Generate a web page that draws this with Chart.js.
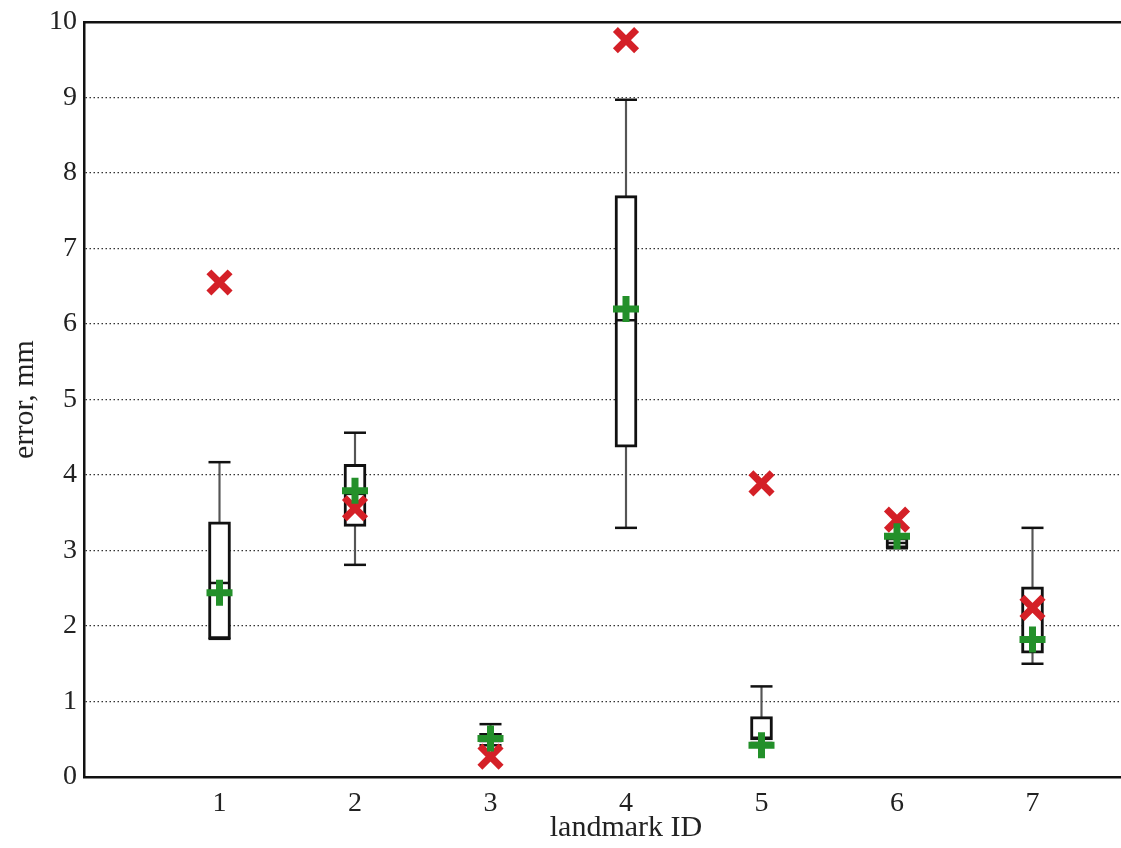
<!DOCTYPE html>
<html>
<head>
<meta charset="utf-8">
<title>Landmark error</title>
<script src="https://cdn.jsdelivr.net/npm/chart.js@4.4.1/dist/chart.umd.min.js"></script>
<style>
  html, body { margin: 0; padding: 0; background: #fff; overflow: hidden; }
  #wrap { position: relative; width: 1190px; height: 848px; }
</style>
</head>
<body>
<div id="wrap"><canvas id="errorChart"></canvas></div>
<script>
/* ===== Landmark error box plot ===== */

const landmarks = [1, 2, 3, 4, 5, 6, 7];
const whiskerLow = [1.83, 2.81, 0.42, 3.30, 0.45, 3.03, 1.50];
const q1 = [1.83, 3.32, 0.46, 4.37, 0.49, 3.03, 1.64];
const median = [2.57, 3.75, 0.52, 6.05, 0.52, 3.10, 1.85];
const q3 = [3.38, 4.14, 0.58, 7.70, 0.80, 3.17, 2.52];
const whiskerHigh = [4.17, 4.56, 0.70, 8.97, 1.20, 3.17, 3.30];
const maxError = [6.55, 3.56, 0.27, 9.76, 3.89, 3.41, 2.24];
const meanError = [2.44, 3.79, 0.51, 6.20, 0.42, 3.19, 1.82];
const yTicks = [0, 1, 2, 3, 4, 5, 6, 7, 8, 9, 10];

const SERIF = "'Liberation Serif', 'DejaVu Serif', serif";
const INK = '#222';

const pairs = (a, b) => landmarks.map((x, i) => ({ x, y: [a[i], b[i]] }));
const points = arr => landmarks.map((x, i) => ({ x, y: arr[i] }));

document.addEventListener('DOMContentLoaded', () => {
  const ctx = document.getElementById('errorChart').getContext('2d');

  new Chart(ctx, {
    type: 'bar',
    data: {
      datasets: [
        { // lower whisker
          data: pairs(whiskerLow, q1), xAxisID: 'x', order: 6,
          backgroundColor: '#555', borderWidth: 0, barThickness: 1.5, grouped: false
        },
        { // upper whisker
          data: pairs(q3, whiskerHigh), xAxisID: 'x', order: 6,
          backgroundColor: '#555', borderWidth: 0, barThickness: 1.5, grouped: false
        },
        { // box
          data: pairs(q1, q3), xAxisID: 'x', order: 5,
          backgroundColor: '#fff', borderColor: '#111', borderWidth: 3,
          borderSkipped: false, barThickness: 22, grouped: false
        },
        { // median
          type: 'scatter', data: points(median), xAxisID: 'x', order: 4,
          pointStyle: 'line', pointRadius: 10, borderColor: '#111', borderWidth: 2.5
        },
        { // whisker caps
          type: 'scatter', data: points(whiskerLow).concat(points(whiskerHigh)), xAxisID: 'x', order: 4,
          pointStyle: 'line', pointRadius: 11, borderColor: '#111', borderWidth: 2.5
        },
        { // red crosses
          type: 'scatter', data: points(maxError), xAxisID: 'x', order: 2,
          pointStyle: 'crossRot', pointRadius: 15, borderColor: '#d42027', borderWidth: 7
        },
        { // green pluses
          type: 'scatter', data: points(meanError), xAxisID: 'x', order: 1,
          pointStyle: 'cross', pointRadius: 13, borderColor: '#23902a', borderWidth: 7
        }
      ]
    },
    options: {
      responsive: true,
      maintainAspectRatio: false,
      animation: false,
      events: [],
      layout: { padding: { left: 0, right: 12, top: 0, bottom: 0 } },
      plugins: { legend: { display: false }, tooltip: { enabled: false } },
      scales: {
        x: {
          type: 'linear', position: 'bottom', min: 0, max: 8,
          offset: false,
          grid: { display: false, offset: false },
          border: { display: true, color: '#111', width: 2.5 },
          ticks: {
            stepSize: 1, padding: 2, color: INK,
            font: { family: SERIF, size: 28 },
            callback: v => landmarks.includes(v) ? String(v) : ''
          },
          title: {
            display: true, text: 'landmark ID', color: INK,
            font: { family: SERIF, size: 30 }, padding: { top: 0, bottom: 2 }
          },
          afterFit: scale => { scale.height = 71; }
        },
        xTop: {
          type: 'linear', position: 'top', min: 0, max: 8, offset: false,
          grid: { display: false },
          border: { display: true, color: '#111', width: 2.5 },
          ticks: { display: false },
          afterFit: scale => { scale.height = 19; }
        },
        y: {
          type: 'linear', min: 0, max: 10,
          afterBuildTicks: scale => { scale.ticks = yTicks.map(value => ({ value })); },
          grid: {
            color: c => (c.tick && (c.tick.value === 0 || c.tick.value === 10)) ? 'rgba(0,0,0,0)' : '#333',
            lineWidth: 1.2, drawTicks: false
          },
          border: { display: true, color: '#111', width: 2.5, dash: [1.5, 2.5] },
          ticks: {
            padding: 7, color: INK,
            font: { family: SERIF, size: 28 }
          },
          title: {
            display: true, text: 'error, mm', color: INK,
            font: { family: SERIF, size: 30 }, padding: { top: 7, bottom: 0 }
          },
          afterFit: scale => {
            scale.width = 84;
            scale.paddingTop = 0;
            scale.paddingBottom = 0;
          }
        }
      }
    }
  });
});
</script>
</body>
</html>
